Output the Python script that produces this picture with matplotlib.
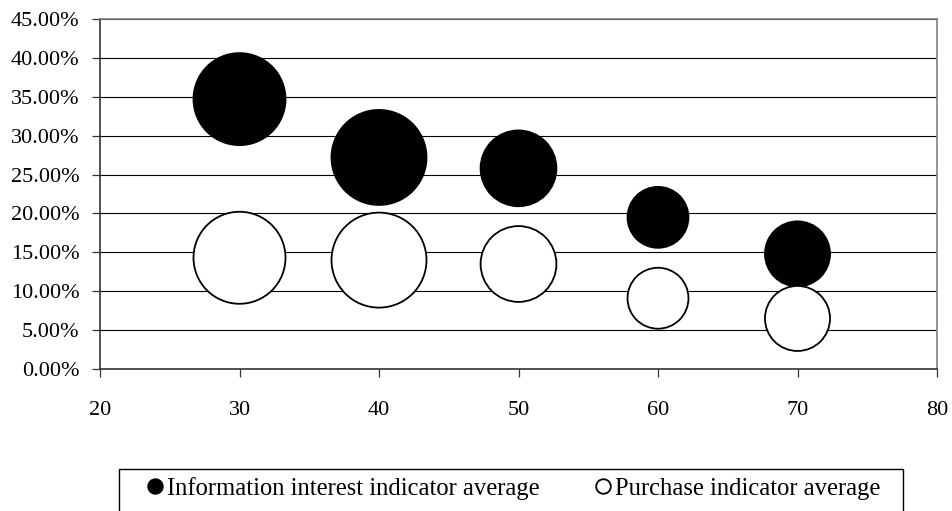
import numpy as np
import matplotlib
matplotlib.use("Agg")
import matplotlib.pyplot as plt
from matplotlib.ticker import FuncFormatter
from matplotlib.lines import Line2D
from matplotlib.patches import Rectangle

# 資料
ages = [30, 40, 50, 60, 70]
info_avg = [0.347, 0.272, 0.258, 0.195, 0.148]
purchase_avg = [0.143, 0.140, 0.135, 0.091, 0.065]
bubble_size = [212, 226, 144, 93, 106]

series_names = ["Information interest indicator average", "Purchase indicator average"]

plt.rcParams["font.family"] = ["Liberation Serif", "DejaVu Serif"]
plt.rcParams["font.size"] = 16

W, H = 952, 511
fig = plt.figure(figsize=(W / 100, H / 100), dpi=100)
ax = fig.add_axes([100 / W, 142 / H, 837 / W, 350 / H])

# 泡泡大小：最大直徑約 95 px
sizes = np.array(bubble_size, dtype=float)
diam_pt = 95 * np.sqrt(sizes / sizes.max()) * 72 / 100
s = diam_pt ** 2

ax.scatter(ages, info_avg, s=s, c="black", edgecolors="black", linewidths=1.3, zorder=3)
ax.scatter(ages, purchase_avg, s=s, c="white", edgecolors="black", linewidths=1.3, zorder=4)

ax.set_xlim(20, 80)
ax.set_ylim(0, 0.45)
ax.set_xticks(np.arange(20, 81, 10))
ax.set_yticks(np.arange(0, 0.451, 0.05))
ax.yaxis.set_major_formatter(FuncFormatter(lambda v, p: f"{v * 100:.2f}%"))

ax.grid(axis="y", color="black", linewidth=0.8, zorder=1)
ax.set_axisbelow(True)
ax.tick_params(axis="both", direction="out", length=5.8, width=0.9, color="#333333", labelsize=16)
ax.tick_params(axis="x", pad=17)
ax.tick_params(axis="y", pad=9)

for side in ["top", "right"]:
    ax.spines[side].set_color("#808080")
    ax.spines[side].set_linewidth(1.2)
for side in ["left", "bottom"]:
    ax.spines[side].set_color("#333333")
    ax.spines[side].set_linewidth(1.2)

# 圖例（外框另外畫，底邊超出畫面）
handles = [
    Line2D([], [], marker="o", linestyle="none", markersize=10.8, markerfacecolor="black", markeredgecolor="black"),
    Line2D([], [], marker="o", linestyle="none", markersize=10.5, markerfacecolor="white", markeredgecolor="black", markeredgewidth=1.3),
]
leg = fig.legend(handles, series_names, loc="upper left", bbox_to_anchor=(147 / W, 1 - 477 / H),
                 ncol=2, frameon=False, fontsize=17.7,
                 handlelength=0.65, handletextpad=0.16, columnspacing=2.24, borderpad=0,
                 borderaxespad=0)
fig.add_artist(Rectangle((119 / W, -0.05), (903 - 119) / W, (H - 469) / H + 0.05,
                         transform=fig.transFigure, fill=False, edgecolor="black", linewidth=1.0))

fig.savefig("out.png", dpi=100)
